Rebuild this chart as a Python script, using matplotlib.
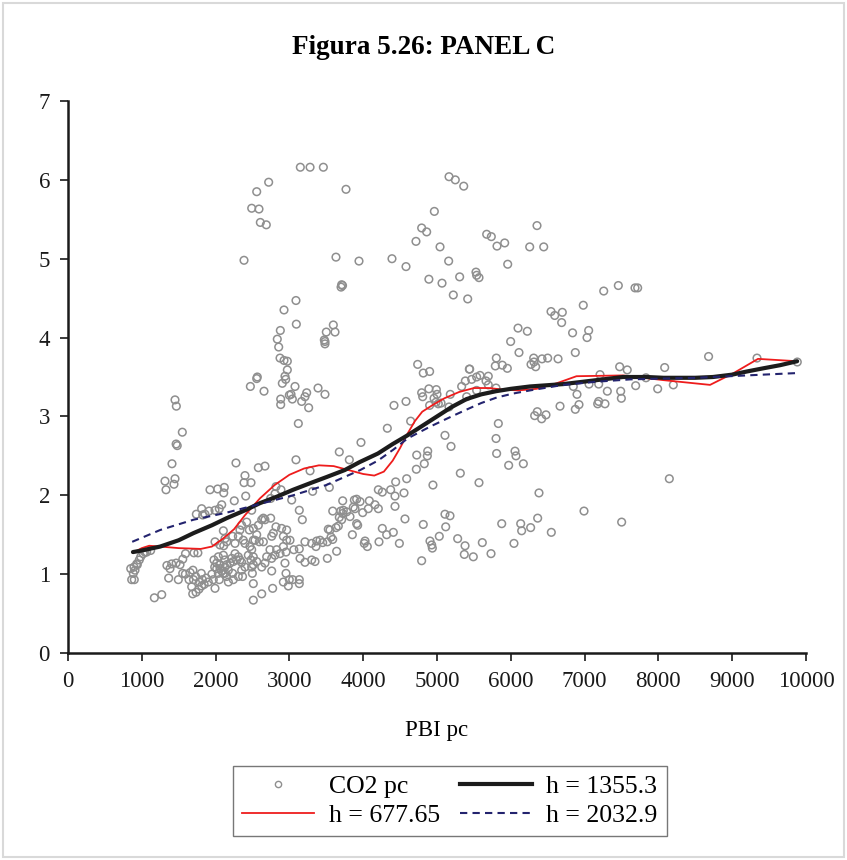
import matplotlib
matplotlib.use("Agg")
import matplotlib.pyplot as plt
from matplotlib.lines import Line2D
from matplotlib.patches import Rectangle

plt.rcParams['font.family'] = ['Liberation Serif', 'DejaVu Serif']

# ---- scatter data (PBI pc, CO2 pc) ----
pbi_pc = [
    850, 863, 885, 894, 898, 908, 931, 939, 966, 985, 1020, 1043, 1066, 1120, 1170, 1270,
    1314, 1328, 1450, 1436, 1409, 1465, 1480, 1450, 1468, 1549,
    1340, 1382, 1405, 1465, 1518, 1555, 1592, 1364, 1495, 1554, 1590, 1640, 1655, 1693, 1700,
    1676, 1690, 1707, 1760,
    1730, 1735, 1775, 1779, 1806, 1822, 1810, 1845, 1872, 1901, 1950, 1969, 1978, 1988, 1992,
    2015, 2015, 2037, 2050, 2060, 2060, 2083, 2105, 2127, 2127, 2150, 2150, 2173, 2173, 2195,
    2240, 2231, 2240, 2285, 2308, 2330, 2353, 2353, 2365, 2308,
    1992, 2060, 2105, 2150, 2231, 2263, 2037, 2105, 2127, 2218, 2263, 2398, 2443, 2480, 2511,
    2498, 2511, 2465, 2308, 2375, 2330, 2353, 2421, 2489, 2457, 2511, 2511, 2127, 2110,
    2398, 2489, 2489,
    1924, 2028, 2118, 2110, 2253, 2083, 1992, 1911, 1811, 1739, 1856, 1825, 2276, 2398, 2385,
    2480, 2408, 2050,
    2511, 2579, 2625, 2647, 2669, 2557, 2592, 2534, 2511, 2557, 2625, 2669, 2692, 2737, 2760,
    2782, 2895, 2963, 2918, 2963, 3008, 2918, 2954, 2805, 2827, 2940, 2954, 2760, 2918, 2999,
    3044, 3134, 3134, 2985, 2773, 2625,
    2760, 2873, 2647, 2746, 2818, 3060,
    2471, 2557, 2565, 2656, 2940, 2950, 2904, 2972, 3076, 3022, 2999, 3040, 2882, 2882, 3234,
    3211, 3166, 3261, 3388, 3482, 3121, 3595, 3500, 3618, 3473, 3482, 3482, 2873, 2927, 2972,
    3089, 2927, 3094, 2877, 2836, 2855, 3708, 3720, 3700,
    3148, 3280, 3460, 2719, 2557, 2489, 2588, 2606, 2687, 3767, 2385, 3631, 3943, 4390, 4580,
    4964, 4792, 4860, 4715, 4890, 5163, 5248, 5362, 6355, 5673, 5736, 5917, 5813, 6256, 6446,
    5041, 5158, 5958, 5528, 5537, 5569, 5068, 5307, 5221, 5416, 7259, 7457, 7683, 7719, 6982,
    6545, 6595, 6698, 6689, 6098, 6224, 6837, 7055, 7033, 5998, 6111, 6874, 5804, 6310, 6423,
    6500, 6640, 8680, 9336, 9882, 7475, 7578, 8085, 5443,
    5790, 5885, 5953, 6274, 6337, 6314, 7209, 7060, 7191, 7832,
    3587, 3695, 3731, 3776, 3722, 3676, 3708, 3821, 3722, 3880, 3911, 3957, 4083, 4069, 4160,
    4205, 3993, 3889, 3911, 3925, 3663, 3632, 3550, 3527, 3564, 3587, 3514, 3415, 3451, 3370,
    3360, 3302, 3211, 3134, 3144, 3211, 3302, 3347, 3514, 3640, 3853, 4025, 4056, 4015,
    2579, 2669, 2818, 2886, 2805, 2746, 3089, 3280, 3315, 3541, 3031, 3134, 3175, 3676, 3812,
    3970, 3866,
    4725, 4874, 4869, 4828, 4720, 5316, 5569, 4945, 4589, 4440, 4372, 4205, 4259, 4431, 4553,
    4431, 4566, 5108, 5176, 4814, 5118, 4259, 4318, 4408, 4214, 4490, 5031, 4905, 4928, 4937,
    4792, 5280, 5380, 5370, 5492, 5614, 5732, 5877, 6134, 6147, 6043, 5831, 5108, 5190, 5800,
    5808, 6057, 6070, 6170, 5971, 6382, 6269, 6364, 6549, 4327, 4643,
    4417, 4580, 4738, 4814, 4900, 4792, 4890, 4806, 4960, 5000, 4991, 4986, 4900, 5018, 5055,
    5163, 5180, 5334, 5384, 5438, 5470, 5537, 5583, 5664, 5695, 5695, 5800, 5537, 5402,
    6323, 6359, 6418, 6477, 6667, 6874, 6924, 6897, 6847, 7177, 7191, 7276, 7308, 7489, 7498,
    7692, 7990, 8202, 8148, 6992, 7502,
]
co2_pc = [
    1.07, 0.93, 1.01, 1.09, 0.93, 1.05, 1.13, 1.12, 1.18, 1.22, 1.26, 1.28, 1.28, 1.30, 0.70, 0.74,
    2.18, 2.07, 2.21, 2.14, 2.40, 2.65, 2.63, 3.21, 3.13, 2.80,
    1.11, 1.07, 1.13, 1.14, 1.12, 1.19, 1.26, 0.95, 0.93, 1.01, 1.00, 0.93, 1.02, 1.05, 0.93,
    0.84, 0.75, 1.27, 1.27,
    0.97, 0.77, 0.81, 0.90, 1.01, 0.93, 0.85, 0.87, 0.95, 0.90, 1.00, 0.93, 1.18, 1.09, 0.82,
    1.14, 1.07, 1.01, 0.93, 1.12, 1.07, 1.04, 1.01, 1.01, 1.09, 0.97, 1.12, 0.90, 1.05, 1.14,
    1.16, 1.01, 0.93, 1.18, 1.22, 1.18, 1.15, 1.05, 0.97, 0.97,
    1.41, 1.37, 1.55, 1.41, 1.48, 1.39, 1.22, 1.24, 1.18, 1.20, 1.26, 1.09, 1.24, 1.18, 1.12,
    1.01, 0.88, 1.35, 1.48, 1.43, 1.56, 1.62, 1.66, 1.81, 1.56, 1.43, 0.67, 1.45, 1.36,
    1.39, 1.31, 1.09,
    2.07, 2.08, 2.10, 2.03, 1.93, 1.88, 1.81, 1.80, 1.83, 1.76, 1.76, 1.75, 2.41, 2.25, 2.16,
    2.16, 1.99, 1.83,
    1.58, 1.62, 1.69, 1.71, 1.69, 1.50, 1.41, 1.43, 1.22, 1.16, 1.09, 1.14, 1.22, 1.31, 1.48,
    1.52, 1.58, 1.56, 1.48, 1.43, 1.43, 1.35, 1.28, 1.24, 1.31, 1.14, 1.01, 1.04, 0.90, 0.93,
    0.93, 0.93, 0.88, 0.85, 0.82, 0.75,
    1.20, 1.26, 1.41, 1.71, 1.60, 1.31,
    3.38, 3.48, 3.50, 3.32, 3.51, 3.47, 3.42, 3.59, 3.38, 3.28, 3.27, 3.22, 3.22, 3.15, 3.30,
    3.25, 3.19, 3.11, 3.36, 3.28, 2.91, 4.16, 4.07, 4.07, 3.97, 3.95, 3.92, 3.74, 3.71, 3.70,
    4.47, 4.35, 4.17, 4.09, 3.98, 3.88, 4.67, 4.66, 4.64,
    6.16, 6.16, 6.16, 5.97, 5.85, 5.64, 5.63, 5.46, 5.43, 5.88, 4.98, 5.02, 4.97, 5.00, 4.90,
    5.60, 5.39, 5.34, 5.22, 4.74, 6.04, 6.00, 5.92, 5.42, 5.31, 5.28, 5.20, 5.16, 5.15, 5.15,
    5.15, 4.97, 4.93, 4.83, 4.79, 4.76, 4.69, 4.77, 4.54, 4.49, 4.59, 4.66, 4.63, 4.63, 4.41,
    4.33, 4.28, 4.32, 4.19, 4.12, 4.08, 4.06, 4.09, 4.00, 3.95, 3.81, 3.81, 3.74, 3.74, 3.73,
    3.74, 3.73, 3.76, 3.74, 3.69, 3.63, 3.59, 3.62, 3.60,
    3.64, 3.65, 3.61, 3.66, 3.63, 3.69, 3.53, 3.41, 3.41, 3.49,
    1.80, 1.80, 1.81, 1.79, 1.77, 1.72, 1.69, 1.73, 1.93, 1.94, 1.95, 1.92, 1.93, 1.83, 1.88,
    1.83, 1.78, 1.83, 1.64, 1.62, 1.61, 1.59, 1.56, 1.57, 1.47, 1.44, 1.41, 1.43, 1.40, 1.42,
    1.35, 1.39, 1.41, 1.32, 1.20, 1.15, 1.18, 1.16, 1.20, 1.29, 1.50, 1.42, 1.35, 1.39,
    2.35, 2.37, 2.11, 2.07, 2.02, 1.96, 2.45, 2.31, 2.05, 2.10, 1.94, 1.81, 1.69, 2.55, 2.45,
    2.67, 1.85,
    2.51, 2.56, 2.50, 2.40, 2.33, 2.28, 2.16, 2.13, 2.21, 2.17, 2.07, 2.07, 2.04, 1.99, 2.03,
    1.86, 1.70, 1.76, 1.74, 1.63, 1.60, 1.58, 1.50, 1.53, 1.41, 1.39, 1.48, 1.42, 1.37, 1.33,
    1.17, 1.45, 1.36, 1.25, 1.22, 1.40, 1.26, 1.64, 1.64, 1.55, 1.39, 2.91, 2.76, 2.62, 2.72,
    2.53, 2.56, 2.50, 2.40, 2.38, 2.03, 1.59, 1.71, 1.53, 2.85, 2.94,
    3.14, 3.19, 3.66, 3.55, 3.57, 3.30, 3.35, 3.25, 3.23, 3.28, 3.34, 3.18, 3.14, 3.16, 3.17,
    3.12, 3.28, 3.38, 3.45, 3.60, 3.47, 3.50, 3.52, 3.45, 3.51, 3.40, 3.36, 3.33, 3.25,
    3.01, 3.06, 2.97, 3.02, 3.13, 3.09, 3.15, 3.28, 3.38, 3.16, 3.19, 3.16, 3.32, 3.32, 3.23,
    3.39, 3.35, 3.40, 2.21, 1.80, 1.66,
]

# ---- kernel fits ----
fit_h1_x = [880, 1000, 1250, 1500, 1700, 1950, 2150, 2400, 2600, 2850, 3050, 3300, 3500,
            3750, 3950, 4200, 4400, 4600, 4800, 5000, 5200, 5400, 5600, 5800, 6000, 6260,
            6710, 7160, 7520, 7840, 8070, 8500, 8740, 9000, 9200, 9420, 9650, 9880]
fit_h1_y = [1.28, 1.30, 1.35, 1.43, 1.52, 1.62, 1.71, 1.81, 1.90, 1.99, 2.07, 2.16, 2.23,
            2.32, 2.42, 2.53, 2.65, 2.76, 2.88, 3.00, 3.12, 3.22, 3.28, 3.32, 3.35, 3.38,
            3.41, 3.46, 3.50, 3.50, 3.49, 3.49, 3.50, 3.53, 3.57, 3.61, 3.65, 3.70]

fit_h05_x = [880, 1000, 1100, 1250, 1500, 1800, 1950, 2100, 2250, 2400, 2600, 2800, 3000,
             3200, 3400, 3600, 3800, 4000, 4150, 4280, 4400, 4500, 4600, 4700, 4800, 4950,
             5100, 5300, 5500, 5700, 5900, 6100, 6350, 6620, 6890, 7520, 8070, 8700, 9020,
             9350, 9880]
fit_h05_y = [1.27, 1.33, 1.36, 1.35, 1.33, 1.32, 1.35, 1.45, 1.57, 1.75, 1.96, 2.13, 2.26,
             2.34, 2.38, 2.37, 2.32, 2.27, 2.25, 2.30, 2.44, 2.60, 2.78, 2.94, 3.06, 3.15,
             3.23, 3.31, 3.36, 3.36, 3.34, 3.33, 3.35, 3.42, 3.51, 3.52, 3.46, 3.40, 3.55,
             3.73, 3.70]

fit_h15_x = [870, 1250, 1700, 2150, 2600, 3050, 3500, 3960, 4200, 4410, 4600, 4905, 5130,
             5360, 5600, 5810, 6030, 6260, 6710, 7160, 7620, 8070, 8520, 8970, 9420, 9880]
fit_h15_y = [1.41, 1.56, 1.69, 1.78, 1.89, 2.00, 2.13, 2.32, 2.44, 2.58, 2.72, 2.87, 2.97,
             3.07, 3.17, 3.24, 3.29, 3.33, 3.40, 3.44, 3.47, 3.48, 3.49, 3.51, 3.53, 3.55]

x_ticks = [0, 1000, 2000, 3000, 4000, 5000, 6000, 7000, 8000, 9000, 10000]
y_ticks = [0, 1, 2, 3, 4, 5, 6, 7]

fig = plt.figure(figsize=(8.47, 8.60), dpi=100)
ax = fig.add_axes([68/847, 1-653/860, (806-68)/847, (653-101)/860])

ax.scatter(pbi_pc, co2_pc, s=30, facecolors='none', edgecolors='#8f8f8f',
           linewidths=1.1, zorder=2)
ax.plot(fit_h05_x, fit_h05_y, color='#ee1c1c', lw=1.3, zorder=3)
ax.plot(fit_h1_x, fit_h1_y, color='#1c1c1c', lw=3.0, zorder=4, solid_capstyle='round')
ax.plot(fit_h15_x, fit_h15_y, color='#23236e', lw=1.5, ls=(0, (3.5, 2.5)), zorder=5)

ax.set_xlim(0, 10000)
ax.set_ylim(0, 7)
ax.set_xticks(x_ticks)
ax.set_yticks(y_ticks)
ax.set_xticklabels([str(v) for v in x_ticks])
ax.set_yticklabels([str(v) for v in y_ticks])
for s in ['top', 'right']:
    ax.spines[s].set_visible(False)
for s in ['left', 'bottom']:
    ax.spines[s].set_linewidth(1.8)
    ax.spines[s].set_color('#1a1a1a')
ax.tick_params(direction='out', length=6, width=1.2, labelsize=16.5, pad=7,
               colors='#1a1a1a')
ax.set_xlabel('PBI pc', fontsize=16.5, labelpad=20)

fig.text(0.5, 1-48/860, 'Figura 5.26: PANEL C', ha='center', va='center',
         fontsize=19.5, fontweight='bold')

handles = [
    Line2D([], [], ls='none', marker='o', markersize=4.5, markerfacecolor='none',
           markeredgecolor='#8f8f8f', markeredgewidth=1.0),
    Line2D([], [], color='#ee1c1c', lw=1.3),
    Line2D([], [], color='#1c1c1c', lw=3.0),
    Line2D([], [], color='#23236e', lw=1.5, ls=(0, (3.5, 2.5))),
]
labels = ['CO2 pc', 'h = 677.65', 'h = 1355.3', 'h = 2032.9']
leg = fig.legend(handles, labels, ncol=2, loc='center',
                 bbox_to_anchor=(450/847, 1-801/860), fontsize=18.5,
                 frameon=True, fancybox=False, edgecolor='#555555',
                 handlelength=2.8, handletextpad=0.55, columnspacing=0.8,
                 labelspacing=0.2, borderpad=0.35, borderaxespad=0)
leg.get_frame().set_linewidth(1.0)

fig.patches.append(Rectangle((0.004, 0.004), 0.992, 0.992, transform=fig.transFigure,
                             fill=False, edgecolor='#d9d9d9', lw=1.5))

fig.savefig('out.png', dpi=100)
